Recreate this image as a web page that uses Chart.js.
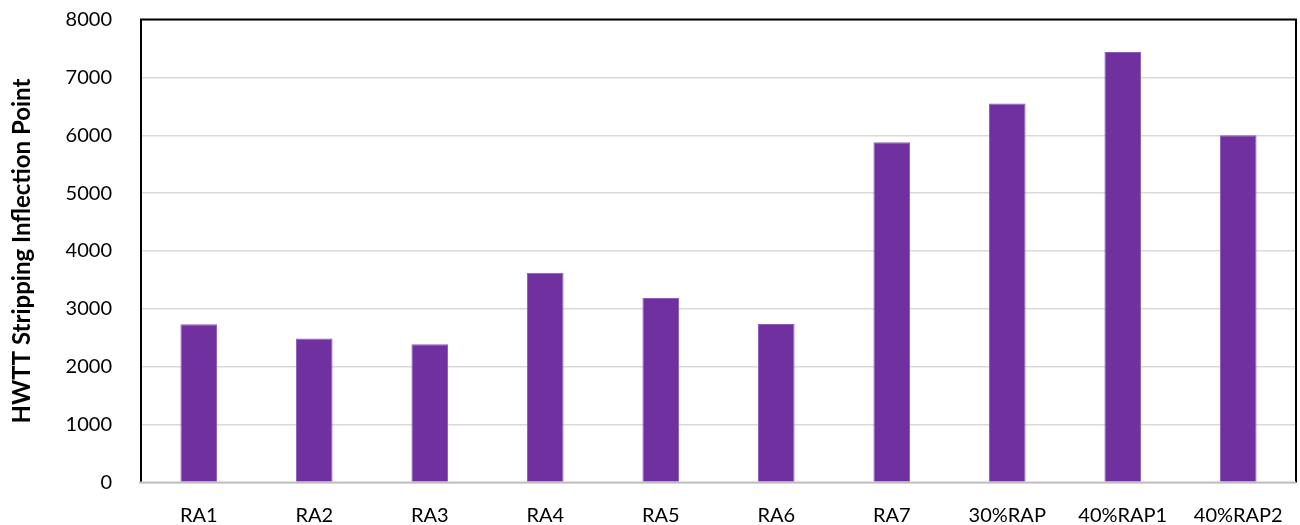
<!DOCTYPE html>
<html>
<head>
<meta charset="utf-8">
<script src="https://cdn.jsdelivr.net/npm/chart.js@4/dist/chart.umd.min.js"></script>
<style>
  html, body { margin: 0; padding: 0; background: #ffffff; }
  #wrap { width: 1300px; height: 525px; }
</style>
</head>
<body>
<div id="wrap"><canvas id="chart" width="1300" height="525"></canvas></div>
<script>
// Mix names along the category axis
const categories = ['RA1', 'RA2', 'RA3', 'RA4', 'RA5', 'RA6', 'RA7', '30%RAP', '40%RAP1', '40%RAP2'];
// HWTT stripping inflection point for each mix
const inflectionPoints = [2735, 2490, 2390, 3625, 3190, 2740, 5880, 6550, 7440, 6000];
// Value axis range and step
const yMin = 0;
const yMax = 8000;
const yStep = 1000;

const FONT = 'Lato, "Open Sans", "Liberation Sans", sans-serif';

// Plot-area frame: dark border on top/left/right, grey baseline at zero
const frame = {
  id: 'frame',
  afterDatasetsDraw(chart) {
    const { ctx, chartArea: a } = chart;
    ctx.save();
    ctx.strokeStyle = '#000000';
    ctx.lineWidth = 2;
    ctx.beginPath();
    ctx.moveTo(a.left, a.bottom);
    ctx.lineTo(a.left, a.top);
    ctx.lineTo(a.right, a.top);
    ctx.lineTo(a.right, a.bottom);
    ctx.stroke();
    ctx.strokeStyle = '#bfbfbf';
    ctx.lineWidth = 2;
    ctx.beginPath();
    ctx.moveTo(a.left - 2, a.bottom);
    ctx.lineTo(a.right, a.bottom);
    ctx.stroke();
    ctx.restore();
  }
};

new Chart(document.getElementById('chart'), {
  type: 'bar',
  data: {
    labels: categories,
    datasets: [{
      data: inflectionPoints,
      backgroundColor: '#7030a0',
      borderColor: '#8c5cb8',
      borderWidth: 1,
      barPercentage: 0.317,
      categoryPercentage: 1.0
    }]
  },
  options: {
    responsive: false,
    animation: false,
    devicePixelRatio: 1,
    layout: { padding: { top: 19.5, right: 4, bottom: 0, left: 0 } },
    plugins: {
      legend: { display: false },
      tooltip: { enabled: false }
    },
    scales: {
      x: {
        grid: { display: false, drawTicks: false },
        border: { display: false },
        ticks: {
          color: '#000000',
          font: { family: FONT, size: 20 },
          padding: 21,
          maxRotation: 0,
          autoSkip: false
        },
        afterFit(scale) {
          scale.height = 42.5;
          scale.paddingLeft = 0;
          scale.paddingRight = 0;
        }
      },
      y: {
        min: yMin,
        max: yMax,
        grid: { color: '#d9d9d9', lineWidth: 1.5, drawTicks: false },
        border: { display: false },
        ticks: {
          stepSize: yStep,
          color: '#000000',
          font: { family: FONT, size: 20 },
          padding: 29,
          callback: (v) => String(v)
        },
        title: {
          display: true,
          text: 'HWTT Stripping Inflection Point',
          color: '#000000',
          font: { family: FONT, size: 24, weight: 'bold' },
          padding: { top: 8, bottom: 0 }
        },
        afterFit(scale) {
          scale.width = 141;
          scale.paddingTop = 0;
          scale.paddingBottom = 0;
        }
      }
    }
  },
  plugins: [frame]
});
</script>
</body>
</html>
